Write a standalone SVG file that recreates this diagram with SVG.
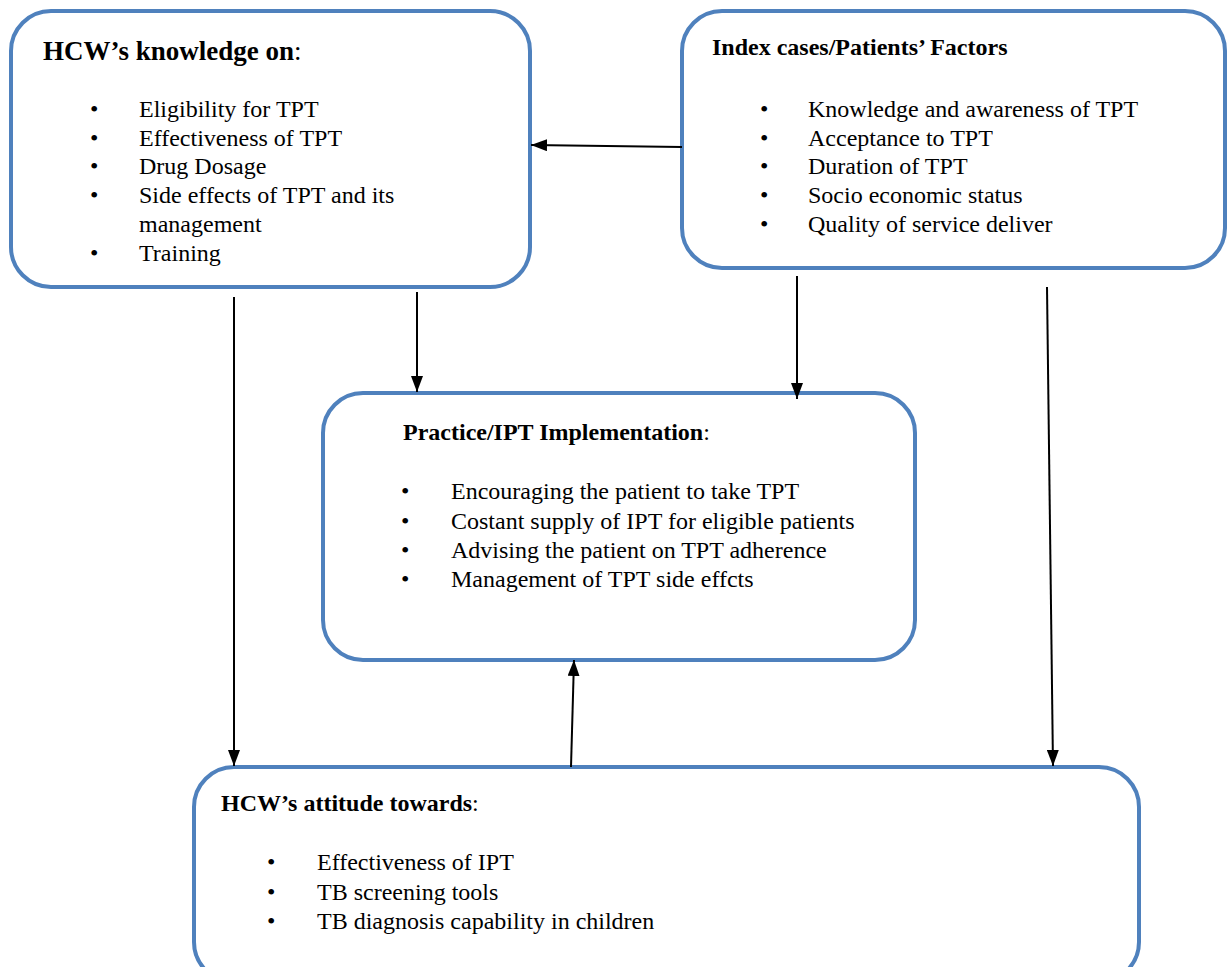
<svg xmlns="http://www.w3.org/2000/svg" width="1228" height="967" viewBox="0 0 1228 967">
<defs>
<marker id="ah" viewBox="0 0 16 12" refX="16" refY="6" markerWidth="16" markerHeight="12" markerUnits="userSpaceOnUse" orient="auto">
<path d="M0,0 L16,6 L0,12 Z" fill="#000"/>
</marker>
<style>
.box{fill:#fff;stroke:#4f81bd;stroke-width:4}
text{font-family:"Liberation Serif","Times New Roman",serif;font-size:24px;fill:#000}
.t{font-weight:bold}
.c line{stroke:#000;stroke-width:2;marker-end:url(#ah)}
</style>
</defs>
<rect width="1228" height="967" fill="#fff"/>
<g id="knowledge">
<rect class="box" x="11" y="11" width="519" height="276" rx="40"/>
<text x="43" y="60" style="font-size:27px"><tspan class="t">HCW’s knowledge on</tspan>:</text>
<text x="90" y="117">•</text><text x="139" y="117">Eligibility for TPT</text>
<text x="90" y="146">•</text><text x="139" y="146">Effectiveness of TPT</text>
<text x="90" y="174">•</text><text x="139" y="174">Drug Dosage</text>
<text x="90" y="203">•</text><text x="139" y="203">Side effects of TPT and its</text>
<text x="139" y="232">management</text>
<text x="90" y="261">•</text><text x="139" y="261">Training</text>
</g>
<g id="patients">
<rect class="box" x="682" y="11" width="543" height="257" rx="40"/>
<text x="712" y="55" class="t">Index cases/Patients’ Factors</text>
<text x="760" y="117">•</text><text x="808" y="117">Knowledge and awareness of TPT</text>
<text x="760" y="146">•</text><text x="808" y="146">Acceptance to TPT</text>
<text x="760" y="174">•</text><text x="808" y="174">Duration of TPT</text>
<text x="760" y="203">•</text><text x="808" y="203">Socio economic status</text>
<text x="760" y="232">•</text><text x="808" y="232">Quality of service deliver</text>
</g>
<g id="practice">
<rect class="box" x="323" y="393" width="592" height="267" rx="40"/>
<text x="403" y="440"><tspan class="t">Practice/IPT Implementation</tspan>:</text>
<text x="401" y="499">•</text><text x="451" y="499">Encouraging the patient to take TPT</text>
<text x="401" y="529">•</text><text x="451" y="529">Costant supply of IPT for eligible patients</text>
<text x="401" y="558">•</text><text x="451" y="558">Advising the patient on TPT adherence</text>
<text x="401" y="587">•</text><text x="451" y="587">Management of TPT side effcts</text>
</g>
<g id="attitude">
<rect class="box" x="194" y="767" width="945" height="215" rx="40"/>
<text x="221" y="811"><tspan class="t">HCW’s attitude towards</tspan>:</text>
<text x="267" y="870">•</text><text x="317" y="870">Effectiveness of IPT</text>
<text x="267" y="900">•</text><text x="317" y="900">TB screening tools</text>
<text x="267" y="929">•</text><text x="317" y="929">TB diagnosis capability in children</text>
</g>
<g id="connectors" class="c">
<line x1="682" y1="147" x2="531" y2="145"/>
<line x1="417" y1="292" x2="417" y2="392"/>
<line x1="797" y1="276" x2="797" y2="399"/>
<line x1="234" y1="297" x2="234" y2="766"/>
<line x1="1047" y1="287" x2="1053" y2="766"/>
<line x1="571" y1="767" x2="574" y2="660"/>
</g>
</svg>
